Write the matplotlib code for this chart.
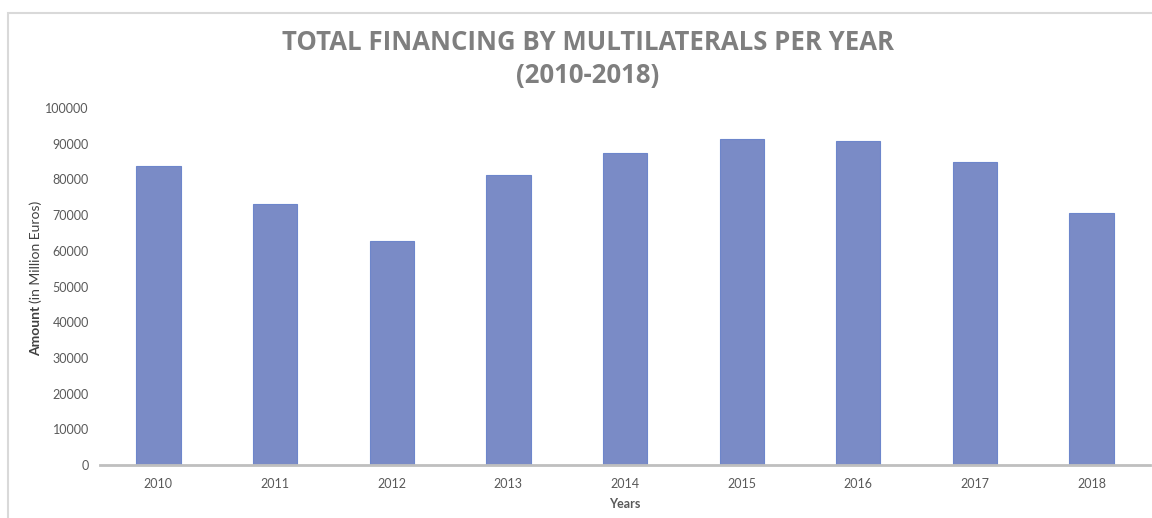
import matplotlib
matplotlib.use("Agg")
import matplotlib.pyplot as plt
from matplotlib.patches import Rectangle

years = ["2010", "2011", "2012", "2013", "2014", "2015", "2016", "2017", "2018"]
amounts = [83800, 73000, 62700, 81300, 87500, 91300, 90800, 85000, 70500]
y_ticks = [0, 10000, 20000, 30000, 40000, 50000, 60000, 70000, 80000, 90000, 100000]

plt.rcParams['font.family'] = ['Lato', 'DejaVu Sans']

W, H = 1152, 518
fig = plt.figure(figsize=(W / 100, H / 100), dpi=100)

# chart border (extends past the right/bottom edges)
fig.patches.append(Rectangle((8 / W, -0.05), 1.2, 1 - 13 / H + 0.05, transform=fig.transFigure,
                             fill=False, edgecolor='#D9D9D9', linewidth=1.5))

ax = fig.add_axes([100 / W, 1 - 465 / H, 1050 / W, 357 / H])
x = list(range(len(years)))
ax.bar(x, amounts, width=0.38, color='#7A8BC6', edgecolor='#6D86CB', linewidth=0.8, zorder=2)
ax.set_xlim(-0.5, len(years) - 0.5)
ax.set_ylim(0, 100000)
ax.set_yticks(y_ticks)
ax.set_yticklabels([str(v) for v in y_ticks])
ax.set_xticks(x)
ax.set_xticklabels(years)
ax.tick_params(axis='both', length=0, labelsize=9, colors='#595959')
ax.tick_params(axis='y', pad=8)
ax.tick_params(axis='x', pad=9)
for s in ['top', 'right', 'left']:
    ax.spines[s].set_visible(False)
ax.spines['bottom'].set_color('#BFBFBF')
ax.spines['bottom'].set_linewidth(2)
ax.spines['bottom'].set_zorder(3)

title_font = ['Open Sans', 'DejaVu Sans']
fig.text(588 / W, 1 - 43 / H, "TOTAL FINANCING BY MULTILATERALS PER YEAR",
         ha='center', va='center', fontsize=18.5, fontweight='bold', color='#7F7F7F',
         family=title_font)
fig.text(588 / W, 1 - 76 / H, "(2010-2018)",
         ha='center', va='center', fontsize=18.5, fontweight='bold', color='#7F7F7F',
         family=title_font)

fig.text(625 / W, 1 - 504 / H, "Years", ha='center', va='center', fontsize=9,
         fontweight='bold', color='#595959')

# y label: bold "Amount" + normal " (in Million Euros)"
fig.canvas.draw()
r = fig.canvas.get_renderer()
t1 = fig.text(36 / W, 1 - 356 / H, "Amount", rotation=90, rotation_mode='anchor',
              ha='left', va='center', fontsize=10, fontweight='bold', color='#404040')
bb = t1.get_window_extent(renderer=r)
t2 = fig.text(36 / W, (bb.y1 + 3) / H, "(in Million Euros)", rotation=90, rotation_mode='anchor',
              ha='left', va='center', fontsize=10, color='#404040')

fig.savefig("out.png", dpi=100)
